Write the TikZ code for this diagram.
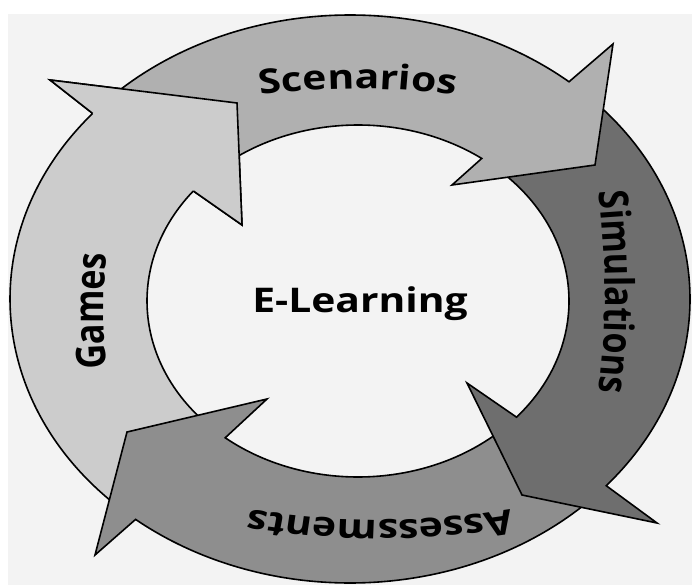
\documentclass[tikz,border=0pt]{standalone}
\usepackage{fontspec}
\newfontfamily\labfont{Open Sans}
\usetikzlibrary{calc,decorations.text}
\definecolor{bgcol}{HTML}{F3F3F3}
\definecolor{scencol}{HTML}{B0B0B0}
\definecolor{simcol}{HTML}{6E6E6E}
\definecolor{asscol}{HTML}{8E8E8E}
\definecolor{gamecol}{HTML}{CCCCCC}
\newcommand\lab{\labfont\bfseries\fontsize{34}{34}\selectfont}
% #1 colour, #2 tail angle, #3 outer notch angle, #4 outer barb, #5 tip, #6 inner barb, #7 inner notch angle
\newcommand\ringarrow[7]{%
  \filldraw[outl, fill=#1] ($(Oc)+(#2:340 and 284)$)
    arc[start angle=#2, end angle=#3, x radius=340, y radius=284]
    -- (#4) -- (#5) -- (#6) -- ($(Ic)+(#7:211 and 176)$)
    arc[start angle=#7, end angle=#2, x radius=211, y radius=176] -- cycle;}
\begin{document}
\begin{tikzpicture}[x=1pt,y=-1pt,
  outl/.style={draw=black, line width=1.6pt, line join=miter},
  ringtext/.style={decorate, decoration={text along path, text align=center, text={|\lab|#1}}}]
\useasboundingbox (0,0) rectangle (692,585);
\fill[white] (0,0) rectangle (692,585);
\fill[bgcol] (8,14) rectangle (692,585);
\coordinate (Oc) at (350,299);
\coordinate (Ic) at (358,301);
% heads
\coordinate (gOB) at (50,80);   \coordinate (gT) at (237,103);  \coordinate (gIB) at (242,225);
\coordinate (sOB) at (613,44);  \coordinate (sT) at (595,165);  \coordinate (sIB) at (452,185);
\coordinate (mOB) at (657,523); \coordinate (mT) at (522,495);  \coordinate (mIB) at (467,383);
\coordinate (aOB) at (95,555);  \coordinate (aT) at (127,432);  \coordinate (aIB) at (267,399);
% arrows
\ringarrow{gamecol}{133}{220.8}{gOB}{gT}{gIB}{218.7}
\ringarrow{asscol}{45}{129.1}{aOB}{aT}{aIB}{129}
\ringarrow{simcol}{313}{401.1}{mOB}{mT}{mIB}{401.3}
\ringarrow{scencol}{225}{310.1}{sOB}{sT}{sIB}{305.9}
% Games head on top of Scenarios tail
\fill[gamecol] ($(Oc)+(220.8:340 and 284)$) -- (gOB) -- (gT) -- (gIB) -- ($(Ic)+(218.7:211 and 176)$) -- cycle;
\draw[outl] ($(Oc)+(220.8:340 and 284)$) -- (gOB) -- (gT) -- (gIB) -- ($(Ic)+(218.7:211 and 176)$);
% labels
\node[font=\lab, xscale=1.2, anchor=base] (elearn) at (360,312) {E-Learning};
\begin{scope}[transform canvas={xscale=1.2}]
\coordinate (cS) at (298.3,639);
\coordinate (cM) at (-395.8,292);
\coordinate (cA) at (316.7,-30);
\coordinate (cG) at (986.7,311);
\path[ringtext=Scenarios] ($(cS)+(245:550)$) arc[start angle=245, end angle=295, radius=550];
\path[ringtext=Simulations] ($(cM)+(-12:900)$) arc[start angle=-12, end angle=12, radius=900];
\path[ringtext=Assessments] ($(cA)+(65:550)$) arc[start angle=65, end angle=115, radius=550];
\path[ringtext=Games] ($(cG)+(168:900)$) arc[start angle=168, end angle=192, radius=900];
\end{scope}
\end{tikzpicture}
\end{document}
